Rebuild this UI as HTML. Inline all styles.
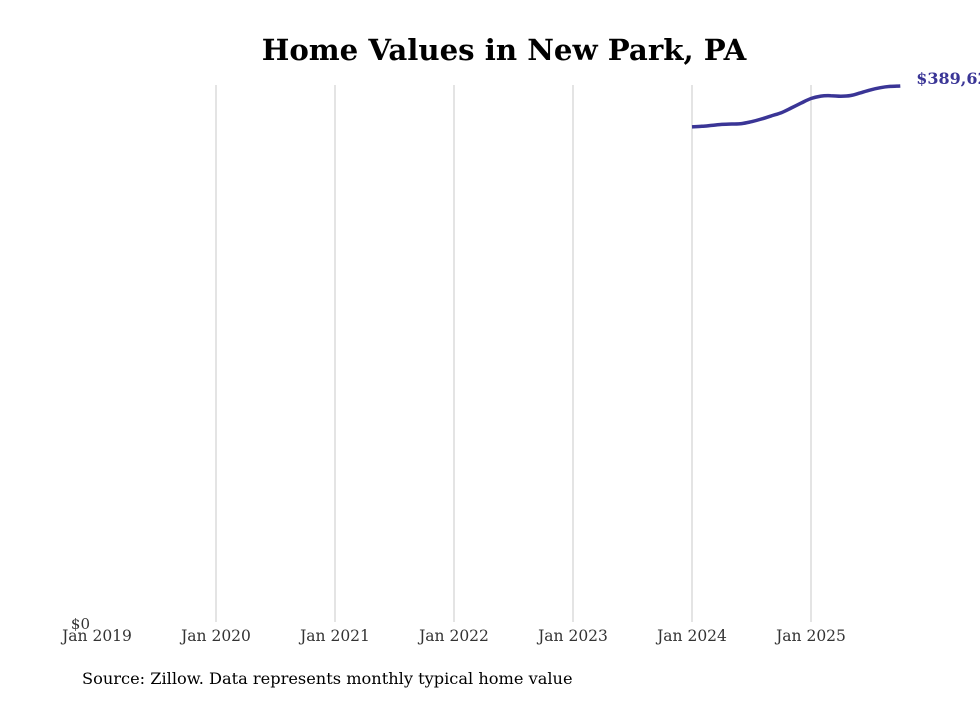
<!DOCTYPE html>
<html><head><meta charset="utf-8"><style>
body{margin:0;background:#fff;width:980px;height:699px;overflow:hidden;font-family:"DejaVu Serif","Liberation Serif",serif;}
</style></head><body>
<svg id="chart" width="980" height="699">
<text x="504" y="60" text-anchor="middle" font-size="29.2" font-weight="bold" fill="#000">Home Values in New Park, PA</text>
<g id="grid"></g>
<g id="xlabels"></g>
<text x="90" y="629" text-anchor="end" font-size="15" fill="#333">$0</text>
<path id="line" fill="none" stroke="#3a3596" stroke-width="3.5" stroke-linejoin="round"/>
<text id="endlabel" font-size="16" font-weight="bold" fill="#3a3596"></text>
<text x="82" y="684" font-size="16.2" fill="#000">Source: Zillow. Data represents monthly typical home value</text>
</svg>
<script>
const yearLabels=["Jan 2019","Jan 2020","Jan 2021","Jan 2022","Jan 2023","Jan 2024","Jan 2025"];
const startMonthIndex=60; // months since Jan 2019 for first value (Jan 2024)
const values=[359900,360300,361000,361700,362000,362300,363700,365600,367900,370200,373600,377200,380500,382300,382600,382200,382700,384700,386800,388400,389300,389620];
const yMax=389620;
const ns="http://www.w3.org/2000/svg";
const x=m=>97+m*(119/12);
const y=v=>622-v/yMax*536;
const grid=document.getElementById('grid'),xl=document.getElementById('xlabels');
yearLabels.forEach((lab,i)=>{
  const xx=x(i*12);
  if(i>0){const l=document.createElementNS(ns,'line');
  l.setAttribute('x1',xx);l.setAttribute('x2',xx);l.setAttribute('y1',85);l.setAttribute('y2',622);
  l.setAttribute('stroke','#c8c8c8');l.setAttribute('stroke-width','1');
  
  
  grid.appendChild(l);}
  const t=document.createElementNS(ns,'text');
  t.setAttribute('x',xx);t.setAttribute('y',641);t.setAttribute('text-anchor','middle');
  t.setAttribute('font-size','15.5');t.setAttribute('fill','#333');t.textContent=lab;
  
  
  xl.appendChild(t);
});
const pts=values.map((v,i)=>[x(startMonthIndex+i),y(v)]);
let d='M'+pts[0][0].toFixed(1)+','+pts[0][1].toFixed(1);
for(let i=0;i<pts.length-1;i++){
  const p0=pts[Math.max(0,i-1)],p1=pts[i],p2=pts[i+1],p3=pts[Math.min(pts.length-1,i+2)];
  const c1=[p1[0]+(p2[0]-p0[0])/6,p1[1]+(p2[1]-p0[1])/6];
  const c2=[p2[0]-(p3[0]-p1[0])/6,p2[1]-(p3[1]-p1[1])/6];
  d+='C'+c1[0].toFixed(1)+','+c1[1].toFixed(1)+' '+c2[0].toFixed(1)+','+c2[1].toFixed(1)+' '+p2[0].toFixed(1)+','+p2[1].toFixed(1);
}
document.getElementById('line').setAttribute('d',d);
const last=values.length-1,el=document.getElementById('endlabel');
el.setAttribute('x',x(startMonthIndex+last)+16);el.setAttribute('y',y(values[last])-2);
el.textContent='$'+values[last].toLocaleString('en-US');
</script>
</body></html>
